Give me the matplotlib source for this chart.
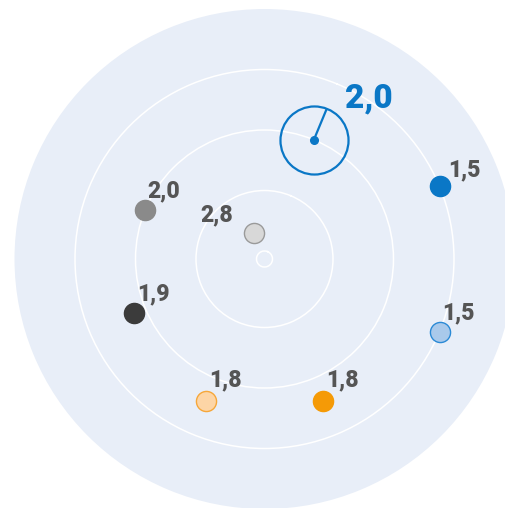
import numpy as np
import matplotlib
matplotlib.use("Agg")
from matplotlib import pyplot as plt

plt.rcParams["font.family"] = ["Roboto", "DejaVu Sans"]

# values (scale runs from 3 at the centre to 1 at the rim)
slots = [0, 1, 2, 3, 4, 5, 6, 7]
values = [2.0, 1.5, 1.5, 1.8, 1.8, 1.9, 2.0, 2.83]
labels = ["2,0", "1,5", "1,5", "1,8", "1,8", "1,9", "2,0", "2,8"]
rings = [3.0, 2.5, 2.0, 1.5]

# styles per slot (slot 0 is the highlighted one)
face = [None, "#0a77c6", "#a9c9eb", "#f59a06", "#fdd5a6", "#3b3b3b", "#8a8a8a", "#d8d8d8"]
edge = [None, "#0a77c6", "#2b8ad6", "#f59a06", "#f6a73a", "#3b3b3b", "#8a8a8a", "#9a9a9a"]
offsets = [(22.5, 23.3), (6, 7.4), (2, 9), (2.5, 10), (2.5, 10), (2.5, 9.4), (1.7, 9), (-14.4, 8)]
align = ["left"] * 7 + ["right"]

BLUE = "#0a77c6"
LABEL = "#555555"

fig = plt.figure(figsize=(5.05, 5.08), dpi=100)
ax = fig.add_axes([14.5 / 505, -1 / 508, 500 / 505, 500 / 508], projection="polar")
ax.set_facecolor("#e8eef8")
ax.spines["polar"].set_visible(False)
ax.set_theta_direction(-1)
ax.set_theta_offset(np.radians(67.5))
ax.set_ylim(3.066, 1.0)
ax.set_xticks([])
ax.set_yticks(rings)
ax.set_yticklabels([])
ax.tick_params(length=0)
ax.yaxis.grid(True, color="white", lw=1.1)
ax.xaxis.grid(False)

theta = np.radians(np.array(slots) * 45.0)

for i, (t, v, lab) in enumerate(zip(theta, values, labels)):
    if i == 0:
        # highlighted point: open ring with a needle
        ax.plot(t, v, "o", ms=49, mfc="none", mec=BLUE, mew=1.6, zorder=4)
        ax.plot(t, v, "o", ms=5.5, color=BLUE, zorder=5)
        ang = np.radians(67.5 - 45.0 * slots[i])
        ax.annotate("", xy=(t, v), xytext=(23.5 * np.cos(ang), 23.5 * np.sin(ang)),
                    textcoords="offset points",
                    arrowprops=dict(arrowstyle="-", color=BLUE, lw=1.6,
                                    shrinkA=0, shrinkB=0), zorder=5)
        ax.annotate(lab, xy=(t, v), xytext=offsets[i], textcoords="offset points",
                    ha="left", va="baseline", fontsize=24, fontweight="heavy",
                    color=BLUE, zorder=6)
    else:
        ax.plot(t, v, "o", ms=14.5, mfc=face[i], mec=edge[i], mew=1.0, zorder=4)
        ax.annotate(lab, xy=(t, v), xytext=offsets[i], textcoords="offset points",
                    ha=align[i], va="baseline", fontsize=16.5, fontweight="heavy",
                    color=LABEL, zorder=6)

fig.savefig("out.png", dpi=100)
